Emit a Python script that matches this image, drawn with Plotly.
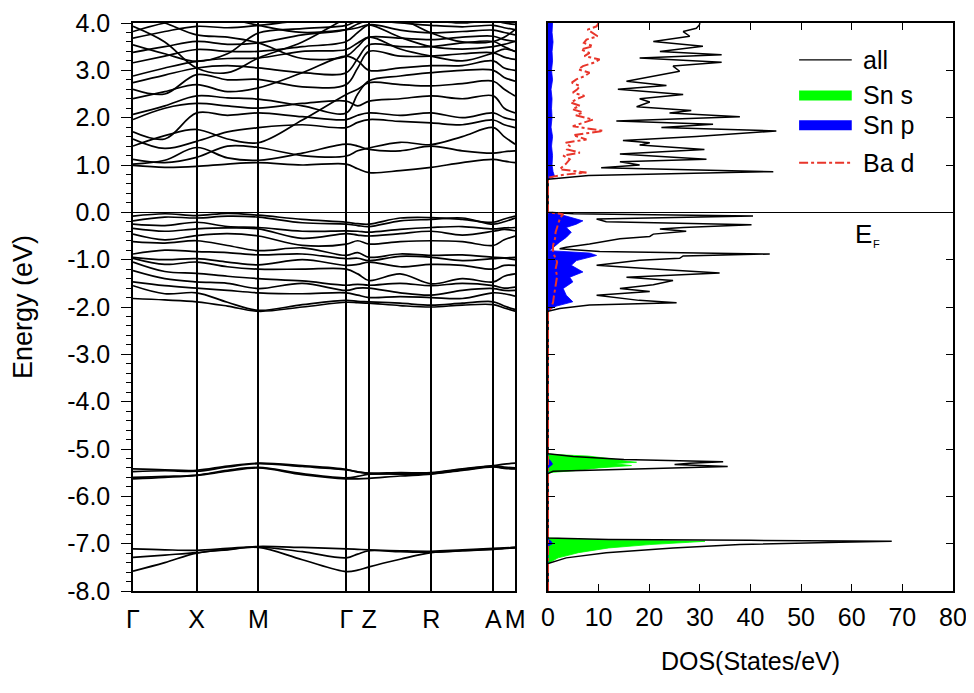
import plotly.graph_objects as go

# ---------------- band structure data ----------------
k_labels = ["Γ", "X", "M", "Γ", "Z", "R", "A", "M"]
k_nodes = [0.0, 63.4, 125.0, 212.7, 235.4, 297.4, 359.4, 381.0]
# k-path distances: high-symmetry points and one point inside every segment
k_path = [0.0, 31.7, 63.4, 94.2, 125.0, 168.9, 212.7, 224.1, 235.4,
          266.4, 297.4, 328.4, 359.4, 370.2, 381.0]

deep_bands = [
    [-7.11, -7.13, -7.14, -7.10, -7.06, -7.08, -7.11, -7.12, -7.13, -7.15, -7.16, -7.13, -7.10, -7.09, -7.08],
    [-7.29, -7.24, -7.19, -7.12, -7.07, -7.17, -7.30, -7.22, -7.15, -7.17, -7.18, -7.15, -7.11, -7.10, -7.08],
    [-7.58, -7.40, -7.20, -7.13, -7.08, -7.34, -7.59, -7.56, -7.49, -7.33, -7.19, -7.15, -7.12, -7.10, -7.09],
]

sn_s_bands = [
    [-5.42, -5.44, -5.45, -5.36, -5.30, -5.35, -5.43, -5.49, -5.51, -5.50, -5.50, -5.42, -5.35, -5.32, -5.30],
    [-5.48, -5.46, -5.47, -5.38, -5.31, -5.37, -5.44, -5.48, -5.52, -5.52, -5.51, -5.43, -5.36, -5.38, -5.40],
    [-5.60, -5.58, -5.55, -5.45, -5.39, -5.52, -5.61, -5.58, -5.53, -5.53, -5.52, -5.44, -5.37, -5.40, -5.41],
    [-5.63, -5.60, -5.56, -5.47, -5.40, -5.54, -5.63, -5.63, -5.62, -5.57, -5.53, -5.45, -5.38, -5.41, -5.42],
]

valence_bands = [
    [-0.08, -0.03, -0.07, -0.02, -0.06, -0.15, -0.21, -0.24, -0.25, -0.12, -0.11, -0.15, -0.21, -0.14, -0.08],
    [-0.18, -0.10, -0.12, -0.08, -0.10, -0.22, -0.25, -0.28, -0.30, -0.18, -0.15, -0.12, -0.25, -0.20, -0.12],
    [-0.25, -0.28, -0.21, -0.30, -0.32, -0.40, -0.39, -0.40, -0.42, -0.36, -0.32, -0.30, -0.35, -0.33, -0.32],
    [-0.34, -0.40, -0.35, -0.33, -0.35, -0.55, -0.45, -0.48, -0.50, -0.45, -0.40, -0.48, -0.40, -0.36, -0.39],
    [-0.46, -0.58, -0.49, -0.45, -0.50, -0.70, -0.67, -0.60, -0.67, -0.62, -0.60, -0.62, -0.70, -0.58, -0.50],
    [-0.62, -0.65, -0.60, -0.70, -0.81, -0.75, -0.91, -0.85, -0.95, -0.88, -0.91, -0.90, -0.95, -0.96, -0.95],
    [-0.88, -0.80, -0.83, -0.85, -0.90, -0.88, -0.98, -0.97, -1.02, -0.93, -0.95, -1.02, -0.98, -0.97, -1.00],
    [-0.95, -1.00, -0.98, -1.05, -1.11, -1.00, -1.12, -1.10, -1.05, -1.15, -1.10, -1.12, -1.20, -1.12, -1.12],
    [-0.97, -1.10, -1.05, -1.15, -1.20, -1.20, -1.20, -1.30, -1.44, -1.30, -1.51, -1.40, -1.47, -1.35, -1.30],
    [-1.05, -1.25, -1.29, -1.35, -1.40, -1.45, -1.54, -1.52, -1.54, -1.50, -1.55, -1.50, -1.55, -1.60, -1.58],
    [-1.23, -1.40, -1.47, -1.50, -1.61, -1.50, -1.65, -1.60, -1.60, -1.70, -1.75, -1.65, -1.61, -1.65, -1.65],
    [-1.47, -1.55, -1.60, -1.65, -1.70, -1.72, -1.70, -1.75, -1.80, -1.78, -1.80, -1.82, -1.70, -1.72, -1.77],
    [-1.55, -1.72, -1.70, -1.90, -2.07, -1.95, -1.86, -1.88, -1.89, -1.92, -1.96, -1.92, -1.89, -1.98, -2.05],
    [-1.82, -1.85, -1.89, -1.98, -2.09, -2.00, -1.90, -1.91, -1.92, -1.97, -2.00, -1.96, -1.95, -2.02, -2.09],
]

conduction_bands = [
    [0.99, 0.95, 0.97, 1.02, 1.05, 1.00, 1.02, 0.92, 0.84, 0.88, 0.95, 1.05, 1.12, 1.08, 1.05],
    [1.02, 1.10, 1.37, 1.15, 1.10, 1.25, 1.44, 1.40, 1.33, 1.30, 1.40, 1.30, 1.25, 1.28, 1.30],
    [1.12, 1.05, 1.16, 1.40, 1.37, 1.20, 1.19, 1.30, 1.36, 1.48, 1.43, 1.60, 1.79, 1.60, 1.44],
    [1.40, 1.62, 1.75, 1.55, 1.47, 1.95, 2.49, 2.60, 2.74, 2.70, 2.67, 2.72, 2.77, 2.60, 2.46],
    [1.55, 1.35, 1.50, 1.70, 1.79, 1.85, 1.79, 1.90, 1.96, 1.92, 1.89, 1.85, 1.95, 1.85, 1.79],
    [1.70, 1.55, 2.10, 2.05, 2.10, 2.02, 1.96, 2.05, 2.10, 2.05, 2.10, 2.00, 2.10, 2.00, 1.95],
    [1.96, 2.20, 2.30, 2.25, 2.20, 2.30, 2.35, 2.25, 2.35, 2.40, 2.46, 2.40, 2.46, 2.20, 2.10],
    [2.07, 2.25, 2.46, 2.42, 2.39, 2.25, 2.10, 2.50, 2.78, 2.88, 2.95, 3.00, 3.00, 2.85, 2.77],
    [2.40, 2.55, 2.70, 2.55, 2.63, 2.95, 3.30, 3.20, 3.00, 3.05, 3.10, 3.10, 3.20, 3.05, 3.00],
    [2.60, 2.50, 2.91, 2.80, 2.81, 2.65, 2.70, 3.05, 3.40, 3.30, 3.30, 3.35, 3.37, 3.28, 3.23],
    [2.74, 2.90, 3.05, 3.10, 3.05, 2.95, 2.95, 3.25, 3.54, 3.50, 3.50, 3.58, 3.61, 3.50, 3.40],
    [2.88, 3.05, 3.19, 3.25, 3.26, 3.40, 3.44, 3.58, 3.70, 3.68, 3.65, 3.70, 3.72, 3.65, 3.61],
    [3.16, 3.30, 3.44, 3.40, 3.40, 3.50, 3.61, 3.80, 3.96, 3.85, 3.79, 3.82, 3.85, 3.80, 3.75],
    [3.38, 3.50, 3.61, 3.55, 3.58, 3.75, 3.86, 3.98, 4.05, 4.00, 3.95, 3.92, 3.95, 3.90, 3.86],
    [3.54, 3.35, 3.19, 3.35, 3.79, 3.88, 3.95, 4.05, 4.10, 4.10, 4.05, 4.00, 4.05, 4.00, 3.97],
    [3.68, 3.82, 3.93, 3.90, 3.95, 4.05, 4.10, 4.15, 4.20, 4.25, 4.20, 4.15, 4.20, 4.15, 4.10],
    [3.82, 4.00, 4.10, 4.10, 4.10, 4.15, 4.20, 4.25, 4.30, 4.35, 4.30, 4.30, 4.30, 4.25, 4.20],
    [3.93, 3.60, 3.05, 2.95, 3.26, 3.60, 4.10, 4.20, 4.30, 4.10, 3.79, 3.60, 3.61, 3.70, 3.86],
    [4.20, 4.00, 3.75, 3.70, 3.58, 3.25, 3.30, 3.50, 3.70, 3.45, 3.30, 3.20, 3.37, 3.45, 3.40],
    [4.30, 4.20, 4.20, 4.10, 3.95, 3.80, 3.86, 3.90, 3.96, 3.70, 3.50, 3.45, 3.50, 3.55, 3.61],
]

# ---------------- DOS data ----------------
dos_all_E = [-8.0, -7.42, -7.30, -7.19, -7.09, -7.02, -6.97, -6.95, -6.93, -6.91, -6.88,
             -5.52, -5.47, -5.42, -5.37, -5.33, -5.30, -5.27, -5.22, -5.16, -5.10,
             -2.09, -2.03, -1.96, -1.91, -1.86, -1.82, -1.75, -1.67, -1.61, -1.53, -1.44, -1.37,
             -1.28, -1.19, -1.12, -1.01, -0.97, -0.92, -0.88, -0.83, -0.77, -0.74, -0.67, -0.56,
             -0.51, -0.46, -0.40, -0.35, -0.32, -0.26, -0.20, -0.14, -0.08, -0.03, 0.0,
             0.70, 0.78, 0.86, 0.94, 1.00, 1.07, 1.12, 1.23, 1.33, 1.42, 1.47, 1.52, 1.60,
             1.72, 1.79, 1.86, 1.93, 2.02, 2.10, 2.15, 2.23, 2.33, 2.40, 2.49, 2.60, 2.68,
             2.77, 2.88, 2.98, 3.09, 3.17, 3.26, 3.33, 3.40, 3.51, 3.61, 3.72, 3.82, 3.89, 3.96, 4.0]
dos_all = [0, 0, 3.6, 11.5, 24.7, 37.9, 57.6, 67.9, 40, 12, 0,
           0, 1, 20, 35.5, 25, 28, 34.6, 15, 5, 0,
           0, 2.3, 8.2, 25.4, 18, 14.8, 9.6, 20.1, 14.2, 20.8, 24.7, 15.5,
           33.9, 20.1, 9.6, 18.1, 26.0, 26.7, 43.8, 10.2, 2.3, 3.6, 8.2, 14.2,
           20.1, 20.8, 27.3, 22.1, 26.7, 40.2, 11.5, 9.6, 40.5, 5, 0,
           0, 8, 44.5, 10.5, 18.1, 14.2, 31.3, 14.2, 30.9, 18.1, 20.1, 14.8, 29.3,
           45.1, 22.4, 32.6, 13.5, 37.9, 24.0, 28.3, 17.5, 20.1, 18.1, 26.7, 13.8, 23.4,
           15.5, 21.4, 26.0, 24.7, 34.3, 18.1, 34.3, 22.1, 30.6, 20.8, 28.0, 26.7, 29.3, 29.9, 30]

dos_sns_E = [-8.0, -7.42, -7.30, -7.19, -7.09, -7.02, -6.97, -6.95, -6.92, -6.88,
             -5.50, -5.46, -5.40, -5.35, -5.31, -5.28, -5.25, -5.20, -5.15, -5.11, 4.0]
dos_sns = [0, 0, 2, 6, 12, 20, 28, 31, 10, 0,
           0, 5, 10, 16.5, 13, 17.5, 15, 12, 8, 0, 0]

dos_snp_E = [-8.0, -7.05, -7.00, -6.95, -6.90, -5.40, -5.32, -5.25, -5.20,
             -2.10, -2.05, -1.98, -1.89, -1.75, -1.61, -1.47, -1.37, -1.26, -1.12, -1.02,
             -0.91, -0.86, -0.81, -0.74, -0.63, -0.53, -0.42, -0.32, -0.25, -0.18, -0.11, -0.04, 0.0,
             0.70, 0.76, 0.86, 1.0, 1.2, 1.4, 1.6, 1.8, 2.0, 2.2, 2.4, 2.6, 2.8, 3.0, 3.2, 3.4, 3.6, 3.8, 4.0]
dos_snp = [0, 0, 0.9, 0.6, 0, 0, 0.9, 0.5, 0,
           0, 0.3, 1.7, 4.9, 3.6, 3.0, 4.9, 4.3, 6.9, 4.6, 5.6,
           9.6, 8.2, 0.3, 1.0, 2.3, 3.6, 4.6, 3.6, 5.6, 6.9, 4.3, 2.3, 0,
           0, 1.3, 1.0, 0.8, 0.9, 0.7, 0.9, 0.6, 0.8, 0.7, 0.8, 0.6, 0.9, 0.7, 0.9, 0.8, 1.0, 0.8, 0.9]

dos_bad_E = [-8.0, -2.10, -2.04, -1.90, -1.75, -1.55, -1.35, -1.20, -1.05, -0.90, -0.80, -0.70,
             -0.55, -0.42, -0.30, -0.18, -0.10, -0.04, 0.0,
             0.70, 0.74, 0.80, 0.84, 0.91, 1.02, 1.12, 1.20, 1.26, 1.33, 1.40, 1.47, 1.54, 1.63,
             1.72, 1.82, 1.90, 1.96, 2.05, 2.11, 2.18, 2.25, 2.32, 2.39, 2.46, 2.53, 2.60, 2.67,
             2.74, 2.81, 2.88, 2.95, 3.02, 3.09, 3.16, 3.23, 3.30, 3.37, 3.44, 3.51, 3.58, 3.65,
             3.72, 3.79, 3.86, 3.93, 4.0]
dos_bad = [0, 0, 0.5, 1.0, 1.2, 1.5, 1.8, 1.5, 1.8, 1.2, 1.0, 1.0,
           1.4, 1.5, 1.8, 2.2, 2.5, 3.0, 0,
           0, 0.3, 3.5, 7.6, 2.3, 3.5, 4.3, 3.0, 6.3, 3.8, 4.3, 3.5, 7.6, 5.0,
           10.9, 4.9, 7.0, 8.9, 5.5, 6.9, 4.8, 6.3, 4.5, 5.6, 7.2, 4.9, 5.8, 6.3,
           4.7, 5.6, 7.3, 8.2, 6.0, 6.9, 9.0, 10.2, 7.2, 8.2, 6.5, 8.9, 7.1, 7.6,
           9.8, 8.9, 7.8, 9.6, 10.0]

energy_ticks = [-8, -7, -6, -5, -4, -3, -2, -1, 0, 1, 2, 3, 4]
energy_ticktext = ["-8.0", "-7.0", "-6.0", "-5.0", "-4.0", "-3.0", "-2.0",
                   "-1.0", "0.0", "1.0", "2.0", "3.0", "4.0"]
legend_names = ["all", "Sn s", "Sn p", "Ba d"]
legend_colors = ["black", "#00ff00", "#0000ff", "#e8352a"]

FONT = "Liberation Sans, Arial, sans-serif"

fig = go.Figure()

# band lines
for band in deep_bands + sn_s_bands + valence_bands + conduction_bands:
    fig.add_trace(go.Scatter(x=k_path, y=band, mode="lines", xaxis="x", yaxis="y",
                             line=dict(color="black", width=1.7, shape="spline", smoothing=1.0),
                             hoverinfo="skip", showlegend=False))

# DOS
fig.add_trace(go.Scatter(x=dos_sns, y=dos_sns_E, mode="lines", fill="tozerox",
                         fillcolor=legend_colors[1], line=dict(color=legend_colors[1], width=0.8),
                         xaxis="x2", yaxis="y2", name="Sn s", showlegend=False))
fig.add_trace(go.Scatter(x=dos_snp, y=dos_snp_E, mode="lines", fill="tozerox",
                         fillcolor=legend_colors[2], line=dict(color=legend_colors[2], width=0.8),
                         xaxis="x2", yaxis="y2", name="Sn p", showlegend=False))
fig.add_trace(go.Scatter(x=dos_all, y=dos_all_E, mode="lines",
                         line=dict(color="black", width=1.5),
                         xaxis="x2", yaxis="y2", name="all", showlegend=False))
fig.add_trace(go.Scatter(x=dos_bad, y=dos_bad_E, mode="lines",
                         line=dict(color=legend_colors[3], width=2, dash="dashdot"),
                         xaxis="x2", yaxis="y2", name="Ba d", showlegend=False))

# legend drawn in DOS axes coordinates
legend_y = [3.22, 2.47, 1.84, 1.05]
legend_w = [1.2, 10, 10, 2]
legend_dash = ["solid", "solid", "solid", "dashdot"]
shapes = []
annotations = []
for name, col, yy, w, d in zip(legend_names, legend_colors, legend_y, legend_w, legend_dash):
    shapes.append(dict(type="line", xref="x2", yref="y2", x0=49.6, x1=60.0, y0=yy, y1=yy,
                       line=dict(color=col, width=w, dash=d)))
    annotations.append(dict(xref="x2", yref="y2", x=61.9, y=yy, text=name, showarrow=False,
                            xanchor="left", yanchor="middle", font=dict(size=25, family=FONT)))
annotations.append(dict(xref="x2", yref="y2", x=60.3, y=-0.46, text="E",
                        showarrow=False, xanchor="left", yanchor="middle",
                        font=dict(size=26, family=FONT)))
annotations.append(dict(xref="x2", yref="y2", x=63.8, y=-0.67, text="F",
                        showarrow=False, xanchor="left", yanchor="middle",
                        font=dict(size=11, family=FONT)))

axis_common = dict(showline=True, linecolor="black", linewidth=1.5, automargin=False,
                   tickfont=dict(size=25, family=FONT, color="black"))

fig.update_layout(
    width=974, height=693,
    margin=dict(l=125, r=29, t=15, b=110),
    plot_bgcolor="white", paper_bgcolor="white",
    font=dict(family=FONT, size=25, color="black"),
    showlegend=False,
    shapes=shapes, annotations=annotations,
    xaxis=dict(domain=[0, 0.4659], range=[0, 381], tickmode="array", tickvals=k_nodes,
               ticktext=k_labels, ticks="", showgrid=True, gridcolor="black", gridwidth=1.5,
               zeroline=False, mirror=True, tickangle=0, ticklabelstandoff=5, anchor="y",
               **axis_common),
    yaxis=dict(domain=[0, 1], range=[-8, 4], tickmode="array", tickvals=energy_ticks,
               ticktext=energy_ticktext, ticks="outside", ticklen=10, tickwidth=1.3,
               tickcolor="black",
               minor=dict(dtick=0.2, ticks="outside", ticklen=5, tickwidth=1, tickcolor="black"),
               showgrid=False, zeroline=True, zerolinecolor="black", zerolinewidth=1.3,
               mirror=True, ticklabelstandoff=6, anchor="x", ticklabeloverflow="allow",
               title=dict(text="Energy (eV)", font=dict(size=27, family=FONT), standoff=27),
               **axis_common),
    xaxis2=dict(domain=[0.5061, 1], range=[0, 80], dtick=10, tick0=0, ticks="inside",
                ticklen=7, tickwidth=1.3, tickcolor="black", mirror="ticks", showgrid=False,
                zeroline=False, anchor="y2", ticklabelstandoff=3, ticklabeloverflow="allow",
                title=dict(text="DOS(States/eV)", font=dict(size=25, family=FONT), standoff=23),
                **axis_common),
    yaxis2=dict(domain=[0, 1], range=[-8, 4], tickmode="array", tickvals=energy_ticks,
                ticks="inside", ticklen=7, tickwidth=1.3, tickcolor="black", mirror="ticks",
                showticklabels=False, showgrid=False, zeroline=True, zerolinecolor="black",
                zerolinewidth=1.3, anchor="x2", **axis_common),
)

fig.write_html("out.html")
